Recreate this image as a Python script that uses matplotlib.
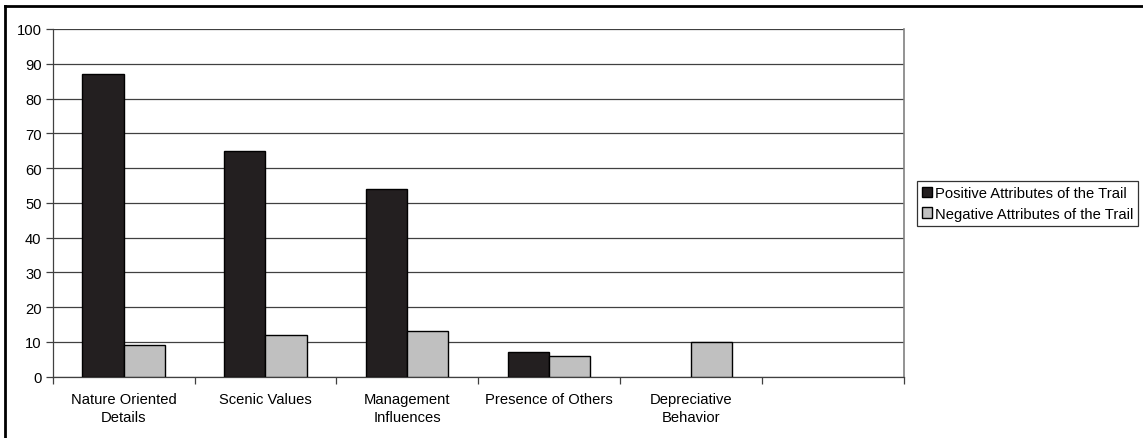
import matplotlib
matplotlib.use("Agg")
import matplotlib.pyplot as plt
from matplotlib.lines import Line2D
import numpy as np

categories = ["Nature Oriented\nDetails", "Scenic Values", "Management\nInfluences",
              "Presence of Others", "Depreciative\nBehavior", ""]
positive = [87, 65, 54, 7, 0, 0]
negative = [9, 12, 13, 6, 10, 0]
series_names = ["Positive Attributes of the Trail", "Negative Attributes of the Trail"]
yticks = [0, 10, 20, 30, 40, 50, 60, 70, 80, 90, 100]

plt.rcParams['font.family'] = ['Liberation Sans', 'DejaVu Sans']
FS = 10.6

W, H = 1143, 439
fig = plt.figure(figsize=(W / 100, H / 100), dpi=100)
ax = fig.add_axes([52.7 / W, 1 - 377.7 / H, (903.7 - 52.7) / W, (377.7 - 30) / H])

x = np.arange(len(categories))
bw = 0.29
ax.bar(x - bw / 2, positive, bw, color="#231f20", edgecolor="#000000",
       linewidth=[1 if v > 0 else 0 for v in positive],
       label=series_names[0], zorder=3)
ax.bar(x + bw / 2, negative, bw, color="#c0c0c0", edgecolor="#000000",
       linewidth=[1 if v > 0 else 0 for v in negative],
       label=series_names[1], zorder=3)

ax.set_xlim(-0.5, len(categories) - 0.5)
ax.set_ylim(0, 100)
ax.set_yticks(yticks)
ax.set_yticklabels([str(v) for v in yticks], fontsize=FS)
ax.yaxis.grid(True, color="#404040", linewidth=0.9, zorder=0)
ax.set_axisbelow(True)

ax.set_xticks(x)
ax.set_xticklabels(categories, fontsize=FS, linespacing=1.35)
ax.tick_params(axis='x', which='major', length=0, pad=11)
ax.set_xticks(np.arange(-0.5, len(categories), 1), minor=True)
ax.tick_params(axis='x', which='minor', length=5, width=0.9, color="#404040", direction='out')
ax.tick_params(axis='y', length=5, width=0.9, color="#404040", pad=3)

for s in ['left', 'bottom', 'right', 'top']:
    ax.spines[s].set_color("#404040")
    ax.spines[s].set_linewidth(0.9)
ax.spines['top'].set_visible(False)
ax.spines['right'].set_color("#808080")
ax.spines['right'].set_linewidth(1.2)

leg = fig.legend(loc='upper left', bbox_to_anchor=(917 / W, 1 - 182 / H), borderaxespad=0,
                 fontsize=FS, frameon=True, fancybox=False, edgecolor="#000000",
                 handlelength=0.7, handleheight=0.7, handletextpad=0.15,
                 labelspacing=0.45, borderpad=0.35)
leg.get_frame().set_linewidth(0.9)

# outer frame lines (top and left visible)
fig.add_artist(Line2D([5 / W, 1.0], [1 - 7 / H, 1 - 7 / H], transform=fig.transFigure,
                      color="black", linewidth=2))
fig.add_artist(Line2D([5 / W, 5 / W], [1 - 7 / H, 0], transform=fig.transFigure,
                      color="black", linewidth=2))

fig.savefig("out.png", dpi=100)
